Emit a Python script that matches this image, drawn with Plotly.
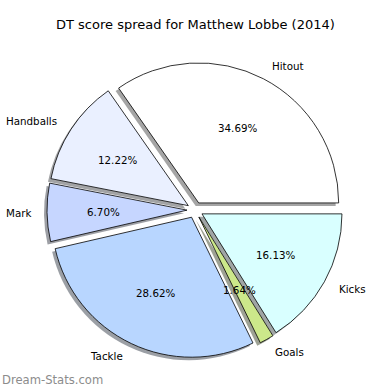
import numpy as np
import plotly.graph_objects as go

title = "DT score spread for Matthew Lobbe (2014)"
labels = ["Hitout", "Handballs", "Mark", "Tackle", "Goals", "Kicks"]
values = [34.69, 12.22, 6.70, 28.62, 1.64, 16.13]
colors = ["#ffffff", "#eaf0ff", "#c6d6ff", "#b8d6ff", "#cce88a", "#d9ffff"]
watermark = "Dream-Stats.com"

W = H = 390
cx_px, cy_px = 195, 210
R_px = 140
pull = 0.057
shadow_px = 3

D = 2 * R_px * (1 + pull)
x0 = (cx_px - D / 2) / W
x1 = (cx_px + D / 2) / W
yc = (H - cy_px) / H
y0 = yc - D / 2 / H
y1 = yc + D / 2 / H

vals = np.array(values, dtype=float)
frac = vals / vals.sum()
# plotly (counterclockwise): first slice spans clockwise from `rotation`;
# make the first slice start at 3 o'clock going counterclockwise like matplotlib
rotation = 90 - 360 * frac[0]


def shade(c):
    c = c.lstrip("#")
    r, g, b = (int(c[i:i + 2], 16) for i in (0, 2, 4))
    return f"rgba({0.3*r:.0f},{0.3*g:.0f},{0.3*b:.0f},0.5)"


fig = go.Figure()
fig.add_trace(go.Pie(
    values=values, labels=labels, sort=False, direction="counterclockwise",
    rotation=rotation, pull=[pull] * len(values), textinfo="none", hoverinfo="skip",
    marker=dict(colors=[shade(c) for c in colors], line=dict(width=0)),
    domain=dict(x=[x0 - shadow_px / W, x1 - shadow_px / W],
                y=[y0 - shadow_px / H, y1 - shadow_px / H]),
    showlegend=False,
))
fig.add_trace(go.Pie(
    values=values, labels=labels, sort=False, direction="counterclockwise",
    rotation=rotation, pull=[pull] * len(values), textinfo="none",
    marker=dict(colors=colors, line=dict(color="#000000", width=0.8)),
    domain=dict(x=[x0, x1], y=[y0, y1]),
    showlegend=False,
))

ends = np.cumsum(frac) * 2 * np.pi
starts = ends - frac * 2 * np.pi
mids = (starts + ends) / 2

ann = []
rp = R_px / W
for lab, v, th in zip(labels, values, mids):
    ox = cx_px / W + pull * rp * np.cos(th)
    oy = yc + pull * rp * np.sin(th)
    px = ox + 0.6 * rp * np.cos(th)
    py = oy + 0.6 * rp * np.sin(th)
    ann.append(dict(x=px, y=py, xref="paper", yref="paper", text=f"{v:.2f}%",
                    showarrow=False, xanchor="center", yanchor="middle",
                    font=dict(size=10.3, color="#000000")))
    lx = ox + 1.1 * rp * np.cos(th)
    ly = oy + 1.1 * rp * np.sin(th)
    ann.append(dict(x=lx, y=ly, xref="paper", yref="paper", text=lab,
                    showarrow=False, xanchor="left" if lx > cx_px / W else "right",
                    yanchor="middle", font=dict(size=10.3, color="#000000")))

ann.append(dict(x=0, y=(H - 380) / H, xref="paper", yref="paper", text=watermark,
                showarrow=False, xanchor="left", yanchor="middle",
                font=dict(size=11.6, color="#8c8c8c")))
ann.append(dict(x=195 / W, y=(H - 25) / H, xref="paper", yref="paper", text=title,
                showarrow=False, xanchor="center", yanchor="middle",
                font=dict(size=13, color="#000000")))

fig.update_layout(
    width=W, height=H, margin=dict(l=0, r=0, t=0, b=0),
    paper_bgcolor="#ffffff", plot_bgcolor="#ffffff",
    font=dict(family="DejaVu Sans", color="#000000"),
    annotations=ann,
)
fig.write_html("out.html", config={"displayModeBar": False},
               post_script="document.body.style.margin='0';")
